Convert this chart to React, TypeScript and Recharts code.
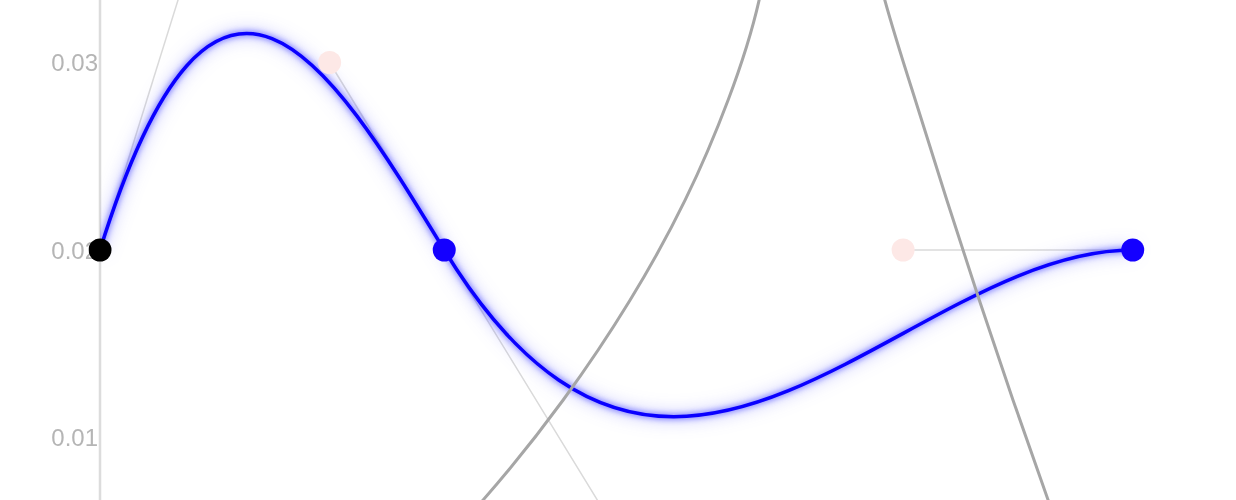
import React from "react";
import { ComposedChart, Line, XAxis, YAxis } from "recharts";

// keyframe curve: key, out-handle, in-handle, key, out-handle, in-handle, key
const curveTimes = [0, 0.34, 0.667, 1, 1.667, 2.333, 3];
const curveValues = [0.02, 0.04, 0.03, 0.02, 0.0, 0.02, 0.02];

const keyTimes = [0, 1, 3];
const keyValues = [0.02, 0.02, 0.02];

const handleTimes = [0.34, 0.667, 1.667, 2.333];
const handleValues = [0.04, 0.03, 0.0, 0.02];

// grey reference curve (its peak runs off the top)
const ghostTimes = [0.842, 1.113, 1.3455, 1.54, 1.7, 1.8247, 1.9147, 1.978, 2.088, 2.198, 2.2798, 2.3684, 2.4599, 2.5542, 2.6521, 2.7541, 2.86];
const ghostValues = [0.00133, 0.00667, 0.012, 0.01733, 0.02267, 0.028, 0.03333, 0.0387, 0.0419, 0.0387, 0.03333, 0.028, 0.02267, 0.01733, 0.012, 0.00667, 0.00133];

const yTicks = [0.01, 0.02, 0.03];

const W = 1236;
const H = 500;
const AXIS_W = 100;
const xDomain = [0, 3.3];
const yDomain = [0.02 - 0.04 / 3, 0.02 + 0.04 / 3];

const toRows = (ts: number[], vs: number[]) => ts.map((t, i) => ({ t, v: vs[i] }));

const curveData = toRows(curveTimes, curveValues);
const ghostData = toRows(ghostTimes, ghostValues);
const handleData = toRows(handleTimes, handleValues);
const startKey = toRows(keyTimes.slice(0, 1), keyValues.slice(0, 1));
const otherKeys = toRows(keyTimes.slice(1), keyValues.slice(1));

// handle arms, as index groups into the curve points
const arms = [
  [0, 1],
  [2, 3, 4],
  [5, 6],
].map((idx) => idx.map((i) => curveData[i]));

// d3 curve factory: reads points as cubic bezier control points
const bezierCurve = (context: any) => {
  let pts: number[][] = [];
  return {
    areaStart() {},
    areaEnd() {},
    lineStart() {
      pts = [];
    },
    point(x: number, y: number) {
      pts.push([+x, +y]);
    },
    lineEnd() {
      if (!pts.length) return;
      context.moveTo(pts[0][0], pts[0][1]);
      for (let i = 1; i + 2 < pts.length; i += 3) {
        context.bezierCurveTo(pts[i][0], pts[i][1], pts[i + 1][0], pts[i + 1][1], pts[i + 2][0], pts[i + 2][1]);
      }
    },
  };
};

const glow = "drop-shadow(0 0 3px rgba(20,20,255,0.8)) drop-shadow(0 0 8px rgba(80,80,255,0.5))";
const css = `
.blue-curve .recharts-line-curve { filter: ${glow}; }
.blue-keys .recharts-dot { filter: ${glow}; }
.recharts-cartesian-axis-tick-value { filter: blur(0.45px); }
`;

const layer: React.CSSProperties = { position: "absolute", left: 0, top: 0 };

const App = () => {
  return (
    <div style={{ position: "absolute", left: 0, top: 0, width: W, height: H, overflow: "hidden", background: "#fff" }}>
      <style>{css}</style>
      {/* bottom layer: value axis and handle arms */}
      <div style={layer}>
        <ComposedChart width={W} height={H} margin={{ top: 0, right: 0, bottom: 0, left: 0 }}>
          <XAxis dataKey="t" type="number" domain={xDomain} allowDataOverflow hide />
          <YAxis
            type="number"
            domain={yDomain}
            allowDataOverflow
            ticks={yTicks}
            interval={0}
            width={AXIS_W}
            tickSize={0}
            tickMargin={2}
            tickLine={false}
            axisLine={{ stroke: "#dcdcdc", strokeWidth: 2.5 }}
            tick={{ fill: "#b5b5b5", fontSize: 24, fontFamily: "Liberation Sans, Arial, sans-serif" }}
            tickFormatter={(v: number) => v.toFixed(2)}
          />
          {arms.map((arm, i) => (
            <Line
              key={`arm-${i}`}
              data={arm}
              dataKey="v"
              type="linear"
              stroke="#dadada"
              strokeWidth={1.5}
              dot={false}
              activeDot={false}
              isAnimationActive={false}
            />
          ))}
        </ComposedChart>
      </div>
      {/* top layer: curves and points, same scales */}
      <div style={layer}>
        <ComposedChart width={W} height={H} margin={{ top: 0, right: 0, bottom: 0, left: AXIS_W }}>
          <XAxis dataKey="t" type="number" domain={xDomain} allowDataOverflow hide />
          <YAxis type="number" domain={yDomain} allowDataOverflow hide />
          <Line
            className="blue-curve"
            data={curveData}
            dataKey="v"
            type={bezierCurve as any}
            stroke="#0a00ff"
            strokeWidth={3.5}
            dot={false}
            activeDot={false}
            isAnimationActive={false}
          />
          <Line
            data={ghostData}
            dataKey="v"
            type="natural"
            stroke="#a6a6a6"
            strokeWidth={3}
            dot={false}
            activeDot={false}
            isAnimationActive={false}
          />
          <Line
            data={handleData}
            dataKey="v"
            stroke="none"
            dot={{ r: 11.5, fill: "#fde8e6", stroke: "none", strokeWidth: 0 }}
            activeDot={false}
            isAnimationActive={false}
          />
          <Line
            data={startKey}
            dataKey="v"
            stroke="none"
            dot={{ r: 11.5, fill: "#000", stroke: "none", strokeWidth: 0, clipDot: false }}
            activeDot={false}
            isAnimationActive={false}
          />
          <Line
            className="blue-keys"
            data={otherKeys}
            dataKey="v"
            stroke="none"
            dot={{ r: 11.5, fill: "#1400ff", stroke: "none", strokeWidth: 0, clipDot: false }}
            activeDot={false}
            isAnimationActive={false}
          />
        </ComposedChart>
      </div>
    </div>
  );
};

export default App;
